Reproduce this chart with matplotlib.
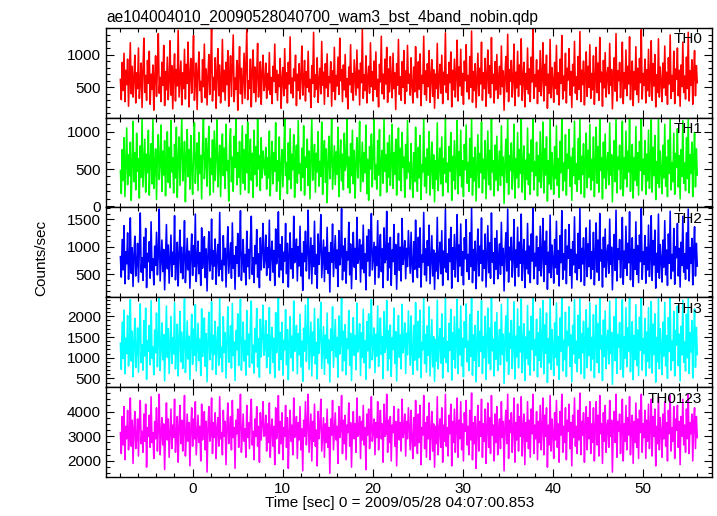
import numpy as np
import matplotlib
matplotlib.use("Agg")
import matplotlib.pyplot as plt
from matplotlib.ticker import MultipleLocator

plt.rcParams['font.family'] = ['Liberation Sans', 'DejaVu Sans']

title = "ae104004010_20090528040700_wam3_bst_4band_nobin.qdp"
xlabel = "Time [sec] 0 = 2009/05/28 04:07:00.853"
ylabel = "Counts/sec"

# time range of the light curve (sec)
t_start = -8.0
t_stop = 56.0

# hand-read count rates for each band (counts/sec)
th0 = [
    620, 310, 880, 450, 1020, 280, 760, 540, 930, 210, 690, 1180, 400, 820, 350, 640, 990, 260, 720, 480,
    1100, 330, 580, 870, 190, 760, 1250, 420, 680, 300, 910, 560, 1050, 240, 700, 470, 840, 150, 620, 980,
    360, 790, 1320, 410, 650, 280, 880, 530, 1140, 220, 740, 460, 960, 310, 600, 1210, 380, 830, 170, 690,
    1010, 290, 770, 520, 1370, 350, 640, 900, 230, 720, 480, 1080, 320, 850, 560, 1190, 200, 680, 940, 410,
    760, 1290, 300, 620, 870, 160, 730, 1040, 450, 590, 270, 920, 510, 1160, 340, 780, 230, 670, 1000, 390,
    810, 1410, 290, 650, 460, 950, 180, 720, 1090, 370, 840, 260, 590, 1230, 430, 760, 300, 880, 540, 1060,
    210, 700, 980, 360, 820, 1300, 280, 640, 470, 910, 150, 730, 1120, 400, 790, 250, 660, 1020, 330, 870,
    1380, 310, 600, 480, 930, 200, 750, 1070, 420, 810, 280, 690, 1170, 350, 560, 890, 240, 720, 990, 450,
    540, 870, 330, 710, 460, 1030, 390, 650, 250, 820, 590, 1160, 420, 760, 300, 690, 510, 940, 180, 630,
    800, 370, 1090, 480, 720, 260, 880, 550, 1270, 410, 640, 340, 780, 600, 990, 220, 700, 450, 860, 320,
    670, 1130, 380, 580, 910, 290, 740, 500, 1050, 430, 620, 190, 830, 560, 1340, 350, 690, 470, 950, 270,
    610, 790, 400, 1200, 530, 730, 240, 860, 490, 1010, 360, 660, 570, 890, 210, 750, 440, 1110, 310, 680,
    520, 960, 390, 1250, 600, 770, 280, 840, 460, 1000, 350, 630, 170, 810, 540, 1150, 420, 710, 300, 920,
    650, 380, 1070, 490, 760, 230, 870, 570, 1390, 330, 690, 450, 980, 260, 640, 820, 410, 1180, 510, 740,
    290, 900, 470, 1040, 360, 620, 200, 850, 580, 1280, 400, 700, 320, 930, 550, 1110, 270, 780, 430, 970,
    610, 340, 1020, 480, 720, 160, 860, 530, 1230, 390, 660, 300, 890, 500, 1060, 250, 750, 440, 1140, 560,
    700, 380, 950, 520, 260, 810, 430, 1120, 610, 340, 890, 470, 1010, 220, 680, 560, 1280, 390, 750, 300,
    860, 510, 1060, 270, 640, 920, 360, 770, 180, 700, 480, 1170, 330, 620, 850, 410, 990, 250, 730, 540,
    1330, 420, 690, 310, 880, 570, 1040, 200, 760, 460, 930, 350, 660, 1220, 290, 810, 520, 1080, 380, 710,
    240, 900, 600, 1150, 430, 680, 320, 970, 500, 1360, 270, 740, 450, 860, 190, 630, 1020, 370, 790, 550,
    1190, 300, 720, 480, 940, 210, 670, 1070, 410, 830, 340, 1260, 560, 700, 260, 890, 460, 1000, 330, 640,
    820, 390, 1130, 510, 750, 150, 680, 970, 430, 1310, 280, 770, 590, 910, 350, 620, 1160, 220, 730, 490,
    1050, 360, 840, 540, 1240, 300, 650, 880, 200, 710, 470, 1100, 400, 780, 280, 960, 580, 1400, 330, 690,
    510, 920, 250, 760, 440, 1060, 370, 640, 1180, 290, 850, 530, 990, 180, 700, 410, 1230, 340, 800, 600,
    270, 880, 480, 1140, 390, 720, 230, 930, 560, 1290, 320, 670, 450, 1020, 260, 790, 610, 1090, 380, 740,
    190, 850, 520, 1200, 410, 660, 310, 970, 470, 1350, 280, 760, 540, 900, 230, 690, 1040, 360, 820, 500,
    1150, 330, 710, 460, 980, 240, 640, 1110, 420, 870, 300, 1260, 580, 730, 210, 910, 490, 1030, 350, 680,
    800, 400, 1170, 530, 770, 170, 700, 950, 440, 1320, 290, 750, 600, 880, 340, 650, 1190, 250, 720, 480,
    1070, 370, 820, 550, 1270, 310, 660, 900, 220, 740, 460, 1120, 390, 790, 270, 940, 570, 1380, 320, 710,
    530, 930, 260, 770, 450, 1080, 360, 630, 1210, 300, 860, 520, 1000, 200, 690, 420, 1240, 350, 810, 590,
    280, 870, 490, 1130, 380, 730, 240, 950, 550, 1300, 330, 680, 440, 1050, 250, 780, 620, 1100, 370, 760,
    210, 840, 510, 1190, 420, 670, 320, 960, 480, 1340, 290, 750, 530, 920, 240, 700, 1060, 370, 830, 570,
]
th1 = [
    480, 170, 760, 350, 920, 130, 600, 1050, 290, 690, 410, 860, 80, 540, 1140, 330, 720, 220, 980, 470,
    640, 110, 810, 390, 1190, 260, 580, 900, 190, 700, 450, 1020, 150, 620, 840, 300, 1170, 240, 530, 770,
    90, 680, 960, 360, 570, 1090, 200, 740, 420, 880, 140, 610, 1000, 320, 790, 250, 1150, 460, 650, 180,
    830, 380, 1060, 120, 590, 930, 280, 710, 1190, 340, 500, 870, 60, 670, 1030, 400, 760, 230, 950, 510,
    160, 730, 1120, 310, 620, 850, 210, 990, 440, 680, 100, 800, 1180, 370, 560, 910, 270, 750, 1070, 150,
    640, 430, 890, 190, 1010, 350, 700, 1160, 260, 580, 820, 130, 690, 970, 410, 780, 240, 1100, 480, 610,
    70, 840, 1040, 330, 660, 200, 940, 520, 1190, 290, 720, 390, 870, 160, 600, 1080, 310, 760, 220, 960,
    450, 1130, 180, 640, 900, 350, 710, 120, 1020, 430, 800, 270, 1170, 500, 680, 210, 920, 380, 740, 560,
    420, 790, 230, 650, 380, 1010, 140, 560, 870, 300, 720, 470, 1120, 200, 610, 340, 930, 90, 530, 760,
    260, 680, 1180, 410, 590, 170, 850, 360, 1040, 240, 700, 490, 960, 120, 620, 820, 310, 1150, 440, 570,
    210, 780, 390, 1080, 150, 660, 520, 900, 280, 740, 100, 630, 1190, 350, 550, 830, 190, 710, 460, 1000,
    270, 600, 400, 1130, 160, 690, 880, 320, 770, 50, 580, 940, 370, 640, 1170, 230, 510, 810, 290, 730,
    430, 1060, 130, 620, 890, 340, 700, 220, 980, 480, 570, 1190, 250, 660, 180, 840, 410, 1020, 300, 750,
    110, 590, 920, 380, 670, 1140, 200, 540, 860, 330, 720, 450, 1090, 170, 630, 80, 800, 500, 970, 260,
    680, 1160, 360, 560, 230, 880, 420, 1030, 140, 610, 750, 310, 1190, 470, 690, 190, 850, 390, 950, 280,
    600, 1100, 240, 720, 430, 900, 150, 640, 1050, 350, 780, 210, 990, 520, 660, 120, 830, 370, 1150, 460,
    590, 230, 840, 410, 120, 720, 330, 1060, 500, 200, 790, 380, 950, 90, 560, 460, 1190, 270, 650, 180,
    770, 420, 1000, 150, 540, 860, 240, 690, 60, 610, 360, 1120, 210, 520, 780, 300, 930, 140, 640, 440,
    1190, 320, 580, 190, 800, 470, 990, 80, 670, 350, 880, 230, 560, 1150, 170, 730, 410, 1020, 260, 610,
    130, 830, 490, 1090, 310, 590, 200, 910, 390, 1190, 150, 650, 340, 790, 70, 530, 960, 250, 710, 450,
    1130, 180, 630, 370, 880, 100, 560, 1010, 290, 750, 220, 1190, 460, 610, 140, 820, 350, 940, 210, 540,
    740, 280, 1080, 410, 660, 40, 590, 900, 320, 1190, 160, 680, 480, 850, 230, 520, 1100, 110, 640, 380,
    990, 250, 760, 440, 1170, 190, 560, 810, 90, 620, 360, 1050, 290, 700, 160, 890, 470, 1190, 220, 600,
    410, 860, 140, 680, 330, 1000, 250, 540, 1130, 180, 770, 420, 930, 70, 610, 300, 1180, 230, 720, 490,
    160, 800, 370, 1080, 280, 640, 120, 870, 450, 1190, 210, 580, 340, 960, 150, 700, 510, 1030, 270, 660,
    80, 780, 410, 1140, 300, 570, 200, 910, 360, 1190, 170, 670, 430, 840, 120, 610, 980, 250, 750, 390,
    1100, 220, 630, 350, 930, 130, 550, 1060, 310, 800, 190, 1190, 480, 650, 100, 860, 380, 970, 240, 590,
    720, 290, 1120, 420, 690, 60, 620, 880, 330, 1190, 180, 660, 500, 820, 230, 560, 1140, 140, 650, 370,
    1010, 260, 740, 460, 1190, 200, 580, 830, 110, 650, 350, 1070, 280, 720, 150, 870, 480, 1190, 210, 630,
    430, 880, 160, 700, 340, 1020, 240, 530, 1160, 190, 790, 410, 950, 90, 600, 310, 1190, 250, 740, 500,
    170, 820, 380, 1100, 270, 660, 130, 890, 440, 1190, 220, 590, 330, 980, 160, 710, 520, 1040, 260, 680,
    100, 760, 400, 1150, 310, 580, 210, 920, 370, 1190, 180, 690, 440, 860, 130, 620, 990, 260, 770, 420,
]
th2 = [
    820, 450, 1130, 580, 1380, 330, 910, 690, 1250, 410, 760, 1520, 520, 980, 280, 850, 1190, 470, 700, 1060,
    360, 940, 1610, 540, 800, 390, 1170, 620, 1330, 260, 880, 730, 1090, 430, 1450, 570, 780, 310, 1010, 660,
    1260, 490, 860, 1680, 380, 740, 1120, 550, 950, 220, 830, 1400, 600, 1030, 340, 770, 1210, 460, 900, 680,
    1560, 400, 720, 1080, 290, 870, 1300, 530, 990, 420, 810, 1470, 350, 690, 1150, 580, 920, 250, 840, 1230,
    480, 1020, 640, 1590, 370, 760, 1100, 510, 890, 300, 1340, 610, 790, 1180, 440, 960, 200, 850, 1270, 560,
    700, 1500, 410, 930, 650, 1140, 320, 820, 1040, 470, 1620, 590, 750, 380, 1200, 670, 970, 270, 880, 1360,
    520, 780, 1070, 430, 1430, 610, 840, 230, 1000, 700, 1240, 460, 910, 1650, 390, 730, 1130, 540, 860, 310,
    1280, 640, 950, 420, 1100, 1550, 500, 800, 350, 1020, 690, 1310, 450, 870, 260, 1160, 580, 940, 1420, 620,
    760, 1210, 480, 980, 620, 1480, 390, 870, 1100, 540, 930, 300, 1320, 690, 820, 1630, 450, 1040, 580, 1180,
    350, 900, 740, 1420, 510, 1060, 270, 840, 1250, 600, 960, 430, 1550, 710, 790, 1140, 380, 1000, 650, 1370,
    470, 880, 210, 1090, 730, 1280, 560, 920, 1660, 420, 810, 1160, 330, 1020, 640, 1460, 500, 860, 250, 1230,
    680, 950, 1580, 440, 770, 1120, 370, 990, 590, 1350, 520, 890, 180, 1070, 720, 1410, 460, 830, 1200, 610,
    940, 280, 1290, 670, 850, 1690, 400, 1010, 560, 1150, 340, 910, 760, 1440, 490, 1050, 240, 880, 1260, 630,
    970, 410, 1530, 700, 800, 1130, 360, 1030, 600, 1390, 530, 870, 220, 1190, 740, 1310, 470, 920, 1600, 580,
    820, 1080, 320, 1000, 660, 1470, 440, 900, 1220, 550, 960, 260, 1340, 710, 780, 1640, 390, 1060, 620, 1170,
    300, 940, 730, 1400, 500, 1040, 230, 860, 1240, 570, 990, 380, 1510, 680, 840, 1110, 420, 970, 640, 1290,
    900, 520, 1260, 680, 360, 1090, 590, 1480, 810, 440, 1170, 630, 1340, 270, 850, 720, 1620, 490, 960, 380,
    1110, 660, 1390, 330, 770, 1200, 470, 940, 230, 880, 560, 1530, 420, 800, 1080, 510, 1290, 300, 920, 620,
    1670, 540, 870, 400, 1140, 730, 1350, 250, 980, 590, 1220, 450, 840, 1580, 370, 1030, 650, 1410, 480, 910,
    310, 1160, 780, 1490, 550, 860, 410, 1250, 640, 1700, 350, 950, 570, 1100, 240, 820, 1320, 470, 1010, 700,
    1520, 380, 930, 610, 1230, 270, 860, 1380, 530, 1070, 430, 1610, 720, 890, 330, 1150, 590, 1290, 420, 820,
    1050, 500, 1440, 660, 970, 200, 880, 1250, 560, 1680, 360, 990, 760, 1170, 450, 800, 1490, 290, 940, 630,
    1350, 460, 1080, 700, 1590, 390, 840, 1130, 260, 920, 600, 1420, 510, 1010, 350, 1230, 740, 1700, 420, 880,
    650, 1190, 320, 980, 570, 1370, 470, 820, 1510, 370, 1100, 680, 1280, 230, 900, 530, 1570, 440, 1030, 770,
    340, 1130, 620, 1460, 500, 930, 290, 1200, 710, 1650, 410, 870, 580, 1310, 330, 1010, 790, 1400, 480, 950,
    250, 1090, 670, 1540, 530, 860, 400, 1240, 610, 1690, 370, 970, 690, 1160, 300, 890, 1340, 460, 1050, 640,
    1480, 420, 910, 590, 1260, 310, 820, 1430, 540, 1120, 390, 1600, 740, 940, 270, 1170, 630, 1320, 450, 870,
    1030, 520, 1500, 680, 990, 220, 900, 1220, 570, 1660, 380, 960, 770, 1130, 440, 830, 1530, 320, 920, 610,
    1370, 480, 1060, 710, 1630, 400, 850, 1160, 280, 950, 590, 1450, 500, 1020, 350, 1210, 730, 1690, 410, 910,
    680, 1200, 340, 990, 580, 1390, 460, 810, 1560, 390, 1110, 670, 1300, 250, 880, 540, 1590, 430, 1040, 760,
    360, 1120, 630, 1470, 490, 940, 300, 1230, 700, 1640, 420, 860, 560, 1330, 320, 1000, 800, 1420, 470, 970,
    270, 1080, 660, 1550, 540, 870, 410, 1250, 600, 1680, 380, 980, 700, 1150, 310, 910, 1360, 470, 1060, 650,
]
th3 = [
    1350, 720, 1860, 980, 2150, 610, 1470, 1100, 2020, 800, 1290, 2400, 920, 1640, 540, 1380, 1950, 760, 1180, 1720,
    650, 1530, 2300, 880, 1310, 700, 1900, 1040, 2200, 480, 1420, 1160, 1780, 830, 2380, 990, 1260, 590, 1670, 1120,
    2080, 780, 1390, 2460, 690, 1230, 1840, 950, 1560, 440, 1350, 2250, 1010, 1700, 620, 1280, 2000, 860, 1480, 1090,
    2330, 730, 1200, 1810, 560, 1410, 2120, 900, 1620, 740, 1330, 2420, 640, 1150, 1890, 970, 1520, 470, 1360, 2050,
    840, 1690, 1060, 2280, 680, 1240, 1830, 930, 1450, 570, 2180, 1030, 1310, 1960, 790, 1580, 420, 1400, 2100, 950,
    1170, 2350, 710, 1540, 1080, 1880, 600, 1340, 1740, 820, 2440, 1000, 1250, 660, 1990, 1130, 1600, 510, 1430, 2230,
    890, 1290, 1770, 750, 2310, 1050, 1380, 450, 1650, 1190, 2060, 810, 1500, 2410, 700, 1220, 1860, 920, 1410, 580,
    2140, 1070, 1570, 770, 1820, 2370, 870, 1300, 630, 1710, 1140, 2190, 780, 1460, 530, 1930, 1020, 1550, 2270, 1060,
    1240, 1900, 760, 1560, 1030, 2210, 620, 1380, 1730, 890, 1470, 520, 2090, 1120, 1330, 2440, 700, 1610, 960, 1850,
    580, 1420, 1190, 2160, 830, 1680, 470, 1350, 1990, 1000, 1520, 680, 2370, 1150, 1290, 1780, 610, 1580, 1070, 2050,
    780, 1400, 430, 1710, 1160, 2270, 910, 1450, 2450, 720, 1310, 1860, 560, 1620, 1050, 2190, 850, 1370, 490, 1940,
    1110, 1500, 2340, 740, 1260, 1750, 600, 1540, 990, 2080, 870, 1430, 410, 1690, 1180, 2230, 770, 1320, 1920, 1020,
    1490, 530, 2010, 1090, 1360, 2460, 680, 1640, 930, 1800, 590, 1460, 1220, 2140, 820, 1590, 450, 1390, 1970, 1060,
    1530, 710, 2320, 1140, 1280, 1820, 570, 1600, 1010, 2170, 880, 1410, 480, 1870, 1170, 2060, 750, 1340, 2400, 950,
    1300, 1720, 640, 1570, 1040, 2250, 790, 1440, 1960, 1080, 1510, 500, 2110, 1130, 1270, 2380, 690, 1650, 980, 1790,
    550, 1480, 1200, 2200, 860, 1630, 440, 1370, 2020, 1010, 1550, 730, 2290, 1120, 1320, 1840, 620, 1590, 1070, 2130,
    1450, 820, 2010, 1130, 600, 1780, 940, 2330, 1290, 700, 1880, 1010, 2150, 520, 1370, 1190, 2440, 860, 1560, 650,
    1770, 1060, 2230, 560, 1240, 1920, 780, 1510, 430, 1430, 920, 2390, 730, 1320, 1700, 870, 2060, 510, 1480, 1000,
    2460, 880, 1390, 660, 1830, 1180, 2170, 460, 1600, 960, 1990, 750, 1350, 2410, 620, 1690, 1070, 2250, 800, 1470,
    540, 1870, 1250, 2300, 900, 1400, 690, 2040, 1030, 2460, 580, 1550, 940, 1780, 420, 1330, 2120, 790, 1640, 1150,
    2380, 620, 1510, 1000, 2000, 480, 1420, 2200, 870, 1720, 710, 2450, 1170, 1450, 560, 1860, 960, 2090, 690, 1340,
    1680, 830, 2290, 1080, 1570, 380, 1460, 2010, 920, 2460, 600, 1590, 1230, 1900, 740, 1300, 2350, 490, 1520, 1020,
    2180, 760, 1750, 1140, 2420, 640, 1370, 1820, 450, 1500, 980, 2260, 830, 1640, 580, 2000, 1200, 2460, 690, 1430,
    1060, 1930, 540, 1600, 940, 2190, 770, 1330, 2380, 610, 1790, 1110, 2080, 400, 1460, 880, 2440, 720, 1680, 1250,
    570, 1840, 1010, 2320, 820, 1510, 480, 1960, 1160, 2460, 680, 1420, 950, 2100, 550, 1640, 1290, 2230, 790, 1550,
    420, 1780, 1090, 2400, 870, 1400, 660, 2020, 990, 2460, 610, 1580, 1120, 1880, 500, 1450, 2160, 760, 1710, 1050,
    2330, 690, 1490, 970, 2040, 520, 1340, 2270, 880, 1820, 640, 2450, 1210, 1530, 450, 1910, 1030, 2130, 740, 1420,
    1660, 850, 2370, 1100, 1610, 360, 1470, 1990, 930, 2460, 620, 1560, 1260, 1850, 720, 1350, 2400, 530, 1500, 990,
    2210, 780, 1720, 1160, 2440, 660, 1390, 1870, 470, 1540, 960, 2280, 810, 1670, 570, 1980, 1180, 2460, 700, 1460,
    1100, 1950, 560, 1620, 910, 2210, 750, 1300, 2360, 630, 1810, 1080, 2060, 410, 1490, 900, 2420, 730, 1700, 1270,
    590, 1860, 1040, 2340, 800, 1530, 500, 1970, 1150, 2460, 700, 1400, 930, 2120, 560, 1660, 1310, 2250, 810, 1570,
    440, 1760, 1070, 2390, 890, 1380, 680, 2050, 1000, 2460, 620, 1600, 1140, 1900, 510, 1480, 2180, 770, 1730, 1080,
]
th0123 = [
    3150, 2300, 3800, 2650, 4200, 2050, 3400, 2900, 4050, 2450, 3100, 4550, 2600, 3650, 1900, 3300, 4000, 2500, 2950, 3700,
    2200, 3550, 4450, 2700, 3200, 2350, 3900, 2800, 4300, 1750, 3350, 3000, 3850, 2550, 4600, 2750, 3150, 2100, 3600, 2900,
    4150, 2400, 3300, 4700, 2250, 3050, 3750, 2650, 3500, 1650, 3250, 4350, 2850, 3700, 2150, 3100, 4100, 2500, 3450, 2950,
    4500, 2350, 3000, 3800, 1950, 3350, 4250, 2700, 3650, 2400, 3200, 4650, 2200, 2950, 3900, 2800, 3550, 1800, 3300, 4150,
    2600, 3700, 2900, 4400, 2250, 3100, 3850, 2750, 3400, 2000, 4300, 2850, 3250, 4000, 2450, 3600, 1550, 3350, 4200, 2800,
    3050, 4550, 2300, 3550, 2950, 3950, 2100, 3300, 3750, 2600, 4600, 2900, 3150, 2250, 4050, 3000, 3600, 1850, 3400, 4350,
    2700, 3200, 3800, 2450, 4450, 2950, 3350, 1700, 3650, 3100, 4100, 2550, 3450, 4700, 2350, 3050, 3900, 2800, 3300, 2150,
    4250, 2950, 3550, 2500, 3750, 4500, 2650, 3200, 2050, 3700, 3000, 4200, 2600, 3400, 1950, 3950, 2850, 3500, 4400, 3000,
    3050, 3850, 2400, 3500, 2750, 4350, 2150, 3250, 3700, 2600, 3400, 1850, 4150, 2900, 3200, 4650, 2300, 3600, 2700, 3950,
    2050, 3350, 3000, 4250, 2550, 3750, 1700, 3150, 4050, 2800, 3450, 2250, 4550, 2950, 3100, 3800, 2100, 3550, 2850, 4200,
    2450, 3300, 1600, 3650, 3000, 4400, 2650, 3400, 4700, 2350, 3150, 3900, 2000, 3600, 2800, 4300, 2600, 3250, 1800, 4000,
    2900, 3450, 4500, 2400, 3100, 3750, 2150, 3500, 2750, 4100, 2550, 3350, 1500, 3700, 3050, 4450, 2450, 3200, 3950, 2850,
    3400, 1900, 4200, 2950, 3250, 4650, 2300, 3650, 2700, 3850, 2050, 3450, 3150, 4350, 2600, 3550, 1750, 3300, 4000, 2900,
    3500, 2350, 4550, 3000, 3150, 3800, 2100, 3600, 2850, 4250, 2650, 3350, 1650, 3900, 3050, 4100, 2500, 3250, 4600, 2800,
    3200, 3700, 2250, 3550, 2950, 4400, 2450, 3400, 4050, 2900, 3500, 1950, 4300, 3000, 3100, 4700, 2350, 3650, 2750, 3800,
    2000, 3450, 3150, 4200, 2600, 3600, 1800, 3300, 4100, 2850, 3550, 2400, 4500, 2950, 3200, 3900, 2200, 3600, 2900, 4150,
    3300, 2450, 4050, 2850, 2100, 3750, 2600, 4450, 3200, 2300, 3900, 2750, 4250, 1850, 3350, 3050, 4650, 2500, 3550, 2150,
    3800, 2900, 4350, 2050, 3150, 4000, 2400, 3500, 1750, 3400, 2700, 4600, 2250, 3250, 3700, 2550, 4150, 1950, 3450, 2800,
    4700, 2600, 3350, 2200, 3850, 3100, 4300, 1800, 3600, 2750, 4100, 2350, 3300, 4550, 2150, 3650, 2900, 4400, 2450, 3500,
    2000, 3950, 3200, 4450, 2650, 3400, 2250, 4050, 2850, 4750, 2050, 3550, 2700, 3800, 1700, 3250, 4250, 2400, 3600, 3000,
    4500, 2150, 3500, 2800, 4100, 1900, 3350, 4350, 2550, 3750, 2300, 4650, 3050, 3450, 2000, 3900, 2750, 4200, 2250, 3300,
    3700, 2500, 4400, 2950, 3600, 1600, 3450, 4050, 2700, 4700, 2100, 3650, 3150, 3950, 2350, 3250, 4550, 1950, 3550, 2850,
    4300, 2400, 3800, 3000, 4600, 2200, 3350, 3900, 1850, 3550, 2800, 4400, 2500, 3650, 2150, 4100, 3100, 4700, 2300, 3450,
    2900, 4000, 2050, 3600, 2750, 4250, 2450, 3300, 4550, 2250, 3850, 3000, 4150, 1750, 3450, 2650, 4650, 2400, 3700, 3150,
    2100, 3950, 2850, 4450, 2550, 3500, 1950, 4000, 3050, 4700, 2350, 3400, 2750, 4150, 2050, 3650, 3200, 4300, 2500, 3550,
    1800, 3850, 2950, 4550, 2600, 3400, 2300, 4050, 2850, 4750, 2250, 3600, 3050, 3950, 1950, 3450, 4200, 2450, 3750, 2900,
    4400, 2300, 3500, 2750, 4150, 2000, 3300, 4400, 2650, 3850, 2200, 4650, 3100, 3500, 1900, 3950, 2800, 4250, 2350, 3400,
    3650, 2550, 4450, 3000, 3650, 1550, 3500, 4000, 2750, 4700, 2150, 3600, 3200, 3900, 2300, 3300, 4500, 2000, 3500, 2800,
    4250, 2450, 3750, 3050, 4600, 2250, 3400, 3850, 1900, 3600, 2750, 4350, 2550, 3700, 2100, 4050, 3150, 4700, 2350, 3500,
    2950, 4050, 2100, 3650, 2800, 4300, 2500, 3250, 4500, 2200, 3800, 3000, 4100, 1800, 3400, 2700, 4600, 2450, 3750, 3200,
    2150, 3900, 2900, 4400, 2600, 3550, 2000, 4050, 3100, 4650, 2400, 3350, 2800, 4200, 2100, 3700, 3250, 4250, 2550, 3600,
    1850, 3800, 3000, 4500, 2650, 3450, 2350, 4100, 2900, 4700, 2300, 3550, 3100, 3900, 2000, 3500, 4150, 2500, 3800, 2950,
]

bands = ["TH0", "TH1", "TH2", "TH3", "TH0123"]
series = [th0, th1, th2, th3, th0123]
colors = ["#ff0000", "#00ff00", "#0000ff", "#00ffff", "#ff00ff"]
ylims = [(37, 1410), (-15, 1190), (85, 1710), (290, 2460), (1350, 4990)]
ymajor = [500, 500, 500, 500, 1000]
yminor = [100, 100, 100, 100, 250]

fig = plt.figure(figsize=(7.17, 5.16), dpi=100)
left, right = 0.1478, 0.9926
bottom, top = 0.0756, 0.9463
h = (top - bottom) / 5

axes = []
for i in range(5):
    ax = fig.add_axes([left, top - (i + 1) * h, right - left, h])
    axes.append(ax)
    y = series[i]
    t = np.linspace(t_start, t_stop, len(y))
    ax.plot(t, y, color=colors[i], lw=1.15)
    ax.set_xlim(-9.6, 57.6)
    ax.set_ylim(*ylims[i])
    ax.xaxis.set_major_locator(MultipleLocator(10))
    ax.xaxis.set_minor_locator(MultipleLocator(2))
    ax.yaxis.set_major_locator(MultipleLocator(ymajor[i]))
    ax.yaxis.set_minor_locator(MultipleLocator(yminor[i]))
    ax.tick_params(which='both', direction='in', top=True, right=True, labelsize=11)
    ax.tick_params(which='major', length=6, width=0.8)
    ax.tick_params(which='minor', length=3, width=0.8)
    for s in ax.spines.values():
        s.set_linewidth(1.0)
    ax.text(0.984, 0.95, bands[i], transform=ax.transAxes, ha='right', va='top', fontsize=11)
    if i < 4:
        ax.tick_params(labelbottom=False)

axes[0].set_title(title, loc='left', fontsize=11.2, pad=4)
fig.text(0.557, 0.012, xlabel, ha='center', va='bottom', fontsize=11)
fig.text(0.057, 0.50, ylabel, rotation=90, ha='center', va='center', fontsize=11)

fig.savefig("out.png", dpi=100)
